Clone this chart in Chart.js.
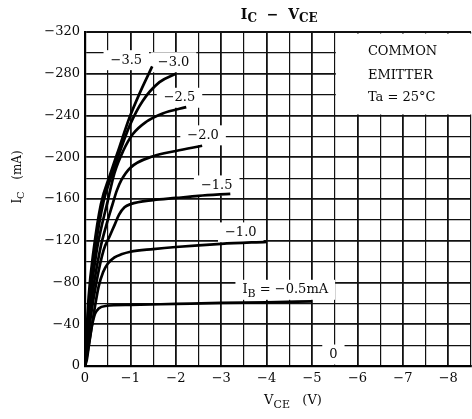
<!DOCTYPE html>
<html>
<head>
<meta charset="utf-8">
<script src="https://cdn.jsdelivr.net/npm/chart.js@4/dist/chart.umd.min.js"></script>
<style>
  html, body { margin: 0; padding: 0; background: #fff; overflow: hidden; }
  canvas { display: block; }
</style>
</head>
<body>
<canvas id="chart" width="476" height="419"></canvas>
<script>
const MINUS = "\u2212";

// tick labels
const xTicks = [0, -1, -2, -3, -4, -5, -6, -7, -8];
const yTicks = [0, -40, -80, -120, -160, -200, -240, -280, -320];

// base current of each curve (mA)
const ibValues = ["-0.5", "-1.0", "-1.5", "-2.0", "-2.5", "-3.0", "-3.5"];

// VCE (V) / IC (mA)
const vce05 = [0, -0.04, -0.1, -0.15, -0.22, -0.3, -0.45, -1, -2, -3, -4, -5];
const ic05 = [0, -6, -25, -38, -50, -55, -57.5, -58.5, -59.5, -60.5, -61, -62];

const vce10 = [0, -0.1, -0.2, -0.3, -0.4, -0.5, -0.65, -0.8, -1, -1.5, -2, -3, -4];
const ic10 = [0, -24, -52, -76, -90, -98, -104, -107, -109.5, -112, -114, -117, -119];

const vce15 = [0, -0.12, -0.25, -0.41, -0.55, -0.65, -0.75, -0.87, -1.0, -1.5, -2, -2.5, -3.2];
const ic15 = [0, -45, -80, -111, -125, -135, -145, -152, -155, -159, -161, -163, -165];

const vce20 = [0, -0.12, -0.33, -0.47, -0.6, -0.7, -0.8, -1.0, -1.5, -2.0, -2.58];
const ic20 = [0, -55, -111, -135, -154, -168, -178, -190, -201, -206, -211];

const vce25 = [0, -0.1, -0.26, -0.5, -0.65, -0.84, -1.05, -1.35, -1.71, -2.23];
const ic25 = [0, -58, -111, -158, -185, -206, -222, -234, -242, -248];

const vce30 = [0, -0.09, -0.22, -0.41, -0.6, -0.78, -1.0, -1.27, -1.64, -2.0];
const ic30 = [0, -62, -111, -158, -184, -207, -232, -254, -272, -280];

const vce35 = [0, -0.08, -0.19, -0.35, -0.55, -0.76, -0.98, -1.2, -1.48];
const ic35 = [0, -66, -111, -155, -183, -210, -238, -261, -287];

const seriesV = [vce05, vce10, vce15, vce20, vce25, vce30, vce35];
const seriesI = [ic05, ic10, ic15, ic20, ic25, ic30, ic35];

// curve labels, placed in data units; parts: [text, isSubscript]
const curveLabels = [
  { parts: [["I", 0], ["B", 1], [" = " + MINUS + "0.5mA", 0]], v: -4.41, i: -73 },
  { parts: [[MINUS + "1.0", 0]], v: -3.43, i: -128 },
  { parts: [[MINUS + "1.5", 0]], v: -2.9, i: -173 },
  { parts: [[MINUS + "2.0", 0]], v: -2.6, i: -221 },
  { parts: [[MINUS + "2.5", 0]], v: -2.08, i: -257 },
  { parts: [[MINUS + "3.0", 0]], v: -1.95, i: -291 },
  { parts: [[MINUS + "3.5", 0]], v: -0.91, i: -293 },
  { parts: [["0", 0]], v: -5.47, i: -11 }
];
const noteLines = ["COMMON", "EMITTER", "Ta = 25\u00b0C"];

const FONT = "'DejaVu Serif', 'Liberation Serif', serif";
const INK = "#0a0a0a";

function richWidth(ctx, parts, size, subSize) {
  let w = 0;
  parts.forEach(([t, sub]) => {
    ctx.font = (sub ? subSize : size) + "px " + FONT;
    w += ctx.measureText(t).width;
  });
  return w;
}

function drawRich(ctx, parts, cx, cy, size, subSize, weight) {
  const w = richWidth(ctx, parts, size, subSize);
  let x = cx - w / 2;
  ctx.textBaseline = "middle";
  ctx.textAlign = "left";
  parts.forEach(([t, sub]) => {
    ctx.font = (weight || "") + " " + (sub ? subSize : size) + "px " + FONT;
    ctx.fillText(t, x, sub ? cy + size * 0.3 : cy);
    x += ctx.measureText(t).width;
  });
  return w;
}

const annotations = {
  id: "annotations",
  beforeDatasetsDraw(chart) {
    const { ctx, chartArea: a, scales: { x, y } } = chart;
    ctx.save();
    ctx.fillStyle = "#fff";
    // clear the grid under the note box
    const nx = x.getPixelForValue(-5.5) + 1;
    const ny = y.getPixelForValue(-240) - 1;
    ctx.fillRect(nx, a.top + 1.5, a.right - nx + 2, ny - a.top - 1.5);
    // clear the grid under each curve label
    curveLabels.forEach((l) => {
      const w = richWidth(ctx, l.parts, 13, 11);
      const px = x.getPixelForValue(l.v);
      const py = y.getPixelForValue(l.i);
      ctx.fillRect(px - w / 2 - 7, py - 10, w + 14, 20);
    });
    ctx.restore();
  },
  afterDatasetsDraw(chart) {
    const { ctx, scales: { x, y } } = chart;
    ctx.save();
    ctx.fillStyle = INK;
    curveLabels.forEach((l) => {
      drawRich(ctx, l.parts, x.getPixelForValue(l.v), y.getPixelForValue(l.i), 13, 11);
    });
    ctx.font = "13px " + FONT;
    ctx.textAlign = "left";
    ctx.textBaseline = "middle";
    const nx = x.getPixelForValue(-6.23);
    [-301, -278, -257].forEach((iv, k) => {
      ctx.fillText(noteLines[k], nx, y.getPixelForValue(iv));
    });
    ctx.restore();
  },
  afterDraw(chart) {
    const { ctx } = chart;
    ctx.save();
    ctx.fillStyle = INK;
    // title
    drawRich(ctx, [["I", 0], ["C", 1], ["  " + MINUS + "  ", 0], ["V", 0], ["CE", 1]], 277, 15, 14, 12, "bold");
    // x title
    drawRich(ctx, [["V", 0], ["CE", 1], ["   (V)", 0]], 293, 401, 13, 11);
    // y title
    ctx.translate(18, 177);
    ctx.rotate(-Math.PI / 2);
    drawRich(ctx, [["I", 0], ["C", 1], ["   (mA)", 0]], 0, 0, 12, 10);
    ctx.restore();
  }
};

function tickLabel(v) {
  return v === 0 ? "0" : MINUS + Math.abs(v);
}

new Chart(document.getElementById("chart"), {
  type: "line",
  data: {
    datasets: seriesV.map((vs, k) => ({
      label: "IB = " + ibValues[k] + " mA",
      data: vs.map((v, j) => ({ x: v, y: seriesI[k][j] })),
      borderColor: "#000",
      borderWidth: 2.7,
      pointRadius: 0,
      fill: false,
      cubicInterpolationMode: "monotone"
    }))
  },
  options: {
    responsive: false,
    animation: false,
    layout: { padding: { top: 32, right: 2.5, left: 0, bottom: 0 } },
    plugins: { legend: { display: false }, tooltip: { enabled: false } },
    scales: {
      x: {
        type: "linear",
        reverse: true,
        min: -8.5,
        max: 0,
        afterFit: (s) => { s.height = 53; },
        border: { display: true, color: "#000", width: 2.2 },
        grid: {
          drawTicks: false,
          color: "#111",
          lineWidth: (c) => (Number.isInteger(c.tick.value) ? 1.8 : 1.2)
        },
        ticks: {
          stepSize: 0.5,
          autoSkip: false,
          maxRotation: 0,
          padding: 5,
          color: INK,
          font: { family: FONT, size: 13 },
          callback: (v) => (xTicks.includes(v) ? tickLabel(v) : "")
        }
      },
      y: {
        type: "linear",
        reverse: true,
        min: -320,
        max: 0,
        afterFit: (s) => { s.width = 85; },
        border: { display: true, color: "#000", width: 2.2 },
        grid: {
          drawTicks: false,
          color: "#111",
          lineWidth: (c) => (c.tick.value === -320 ? 2 : yTicks.includes(c.tick.value) ? 1.8 : 1.2)
        },
        ticks: {
          stepSize: 20,
          autoSkip: false,
          padding: 5,
          color: INK,
          font: { family: FONT, size: 13 },
          callback: (v) => (yTicks.includes(v) ? tickLabel(v) : "")
        }
      }
    }
  },
  plugins: [annotations]
});
</script>
</body>
</html>
